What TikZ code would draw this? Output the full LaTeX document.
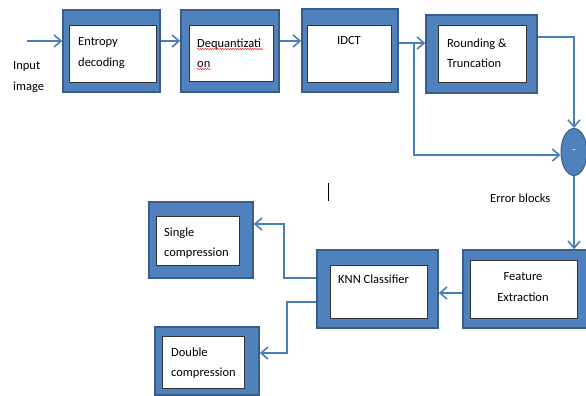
\documentclass[tikz,border=0pt]{standalone}
\usepackage{fontspec}
\setmainfont{Carlito}
\usetikzlibrary{fit,arrows.meta,shapes.geometric,decorations.pathmorphing}
\definecolor{bfill}{RGB}{79,129,189}
\definecolor{bdark}{RGB}{56,93,138}
\definecolor{arr}{RGB}{74,126,187}
\tikzset{
  outer/.style={draw=bdark,line width=1.5pt,fill=bfill,inner sep=0pt},
  inner/.style={draw=black!80,line width=0.8pt,fill=white,inner sep=0pt},
  txt/.style={font=\fontsize{12.5}{20.5}\selectfont,inner sep=0pt,align=left,anchor=west},
  conn/.style={draw=arr,line width=1.6pt,-{Straight Barb[length=7pt,width=12pt,line width=1.6pt]}},
  line/.style={draw=arr,line width=1.6pt},
  squig/.style={draw=red,line width=0.5pt,decorate,decoration={snake,amplitude=0.6pt,segment length=2.5pt}}
}
\begin{document}
\begin{tikzpicture}[x=1pt,y=-1pt]
\useasboundingbox (0,0) rectangle (586,396);
% top row
\node[outer,fit={(63,10)(160,92)}] (e) {};
\node[inner,fit={(69,25)(156,82)}] (ei) {};
\node[outer,fit={(181,10)(279,92)}] (q) {};
\node[inner,fit={(189,25)(273,81)}] (qi) {};
\node[outer,fit={(302,9)(398,92)}] (t) {};
\node[inner,fit={(307,25)(391,82)}] (ti) {};
\node[outer,fit={(426,15)(537,93)}] (r) {};
\node[inner,fit={(438,25)(526,82)}] (ri) {};
\node[ellipse,draw=bdark,line width=1pt,fill=bfill,minimum width=26pt,minimum height=47pt,inner sep=0pt,text=white] (el) at (574,152) {\fontsize{12}{14}\selectfont -};
% bottom row
\node[outer,fit={(463,250)(590,328)}] (f) {};
\node[inner,fit={(470,260)(577,318)}] (fi) {};
\node[outer,fit={(317,250)(438,328)}] (k) {};
\node[inner,fit={(330,265)(427,318)}] (ki) {};
\node[outer,fit={(149,202)(253,278)}] (s) {};
\node[inner,fit={(156,216)(239,265)}] (si) {};
\node[outer,fit={(155,327)(259,395)}] (d) {};
\node[inner,fit={(162,336)(244,388)}] (di) {};
% texts
\node[txt] (tin) at (13,77) {Input\\image};
\node[txt] (te) at (78,53) {Entropy\\decoding};
\node[txt] (tq) at (197,53) {Dequantizati\\on};
\node[txt,anchor=center] (tt) at (349,40) {IDCT};
\node[txt] (tr) at (447,53) {Rounding \&\\Truncation};
\node[txt] (terr) at (490,198) {Error blocks};
\node[txt] (ts) at (164,243) {Single\\compression};
\node[txt] (tk) at (338,279) {KNN Classifier};
\node[txt,align=center,anchor=center] (tf) at (523,287) {Feature\\Extraction};
\node[txt] (td) at (171,363) {Double\\compression};
% squiggles
\draw[squig] (197,49) -- (263,49);
\draw[squig] (197,69) -- (211,69);
% cursor
\coordinate (c1) at (328,183);
\coordinate (c2) at (328,201);
\draw[line width=1pt] (c1) -- (c2);
% connectors
\coordinate (inA) at (27,41);
\draw[conn] (inA) -- (inA -| e.west);
\draw[conn] ([yshift=10pt]e.east) -- ([yshift=10pt]q.west);
\draw[conn] ([yshift=10pt]q.east) -- ([yshift=10pt]q.east -| t.west);
\draw[conn] ([yshift=7.5pt]t.east) -- ([yshift=7.5pt]t.east -| r.west);
\coordinate (br) at (414,43);
\draw[conn] (br) |- ([yshift=-3pt]el.west);
\draw[conn] ([yshift=17pt]r.east) -| (el.north);
\draw[conn] (el.south) -- (el.south |- f.north);
\draw[conn] ([yshift=-4pt]f.west) -- ([yshift=-4pt]k.east);
\draw[conn] ([yshift=11pt]k.west) -- ++(-32,0) |- ([yshift=16pt]s.east);
\draw[conn] ([yshift=-13pt]k.west) -- ++(-29,0) |- ([yshift=8pt]d.east);
\end{tikzpicture}
\end{document}
